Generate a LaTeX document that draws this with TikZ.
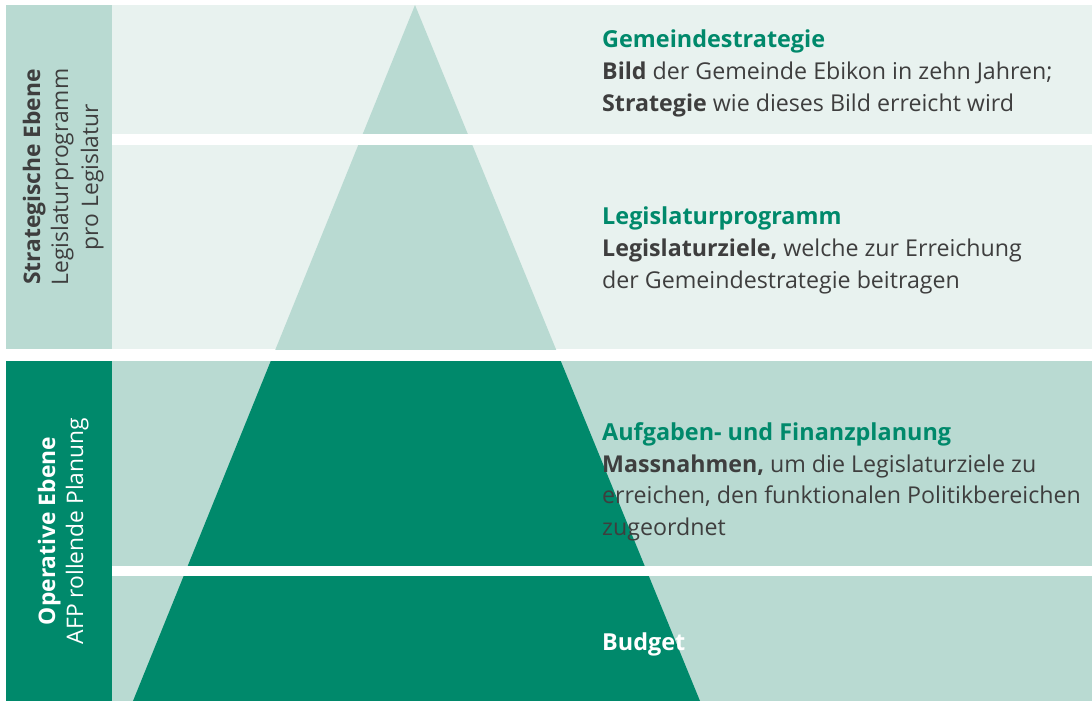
\documentclass[tikz,border=0pt]{standalone}
\usepackage{fontspec}
\setmainfont{Open Sans}

\definecolor{agreen}{RGB}{0,137,107}
\definecolor{alight}{RGB}{185,218,210}
\definecolor{apale}{RGB}{232,242,239}
\definecolor{atext}{RGB}{62,62,62}

\tikzset{
  head/.style={anchor=base west, inner sep=0pt, text=agreen, font=\fontsize{23.4}{27}\selectfont\bfseries},
  body/.style={anchor=base west, inner sep=0pt, text=atext, font=\fontsize{23.2}{27}\selectfont},
  sidebold/.style={anchor=base, inner sep=0pt, rotate=90, font=\fontsize{22.8}{26}\selectfont\bfseries},
  side/.style={anchor=base, inner sep=0pt, rotate=90, font=\fontsize{22.8}{26}\selectfont},
}

\begin{document}
\begin{tikzpicture}[x=1pt,y=-1pt]
	\useasboundingbox (0,0) rectangle (1092,701);

	% Bands
	\fill[apale]  (112,5)   rectangle (1092,134);
	\fill[apale]  (112,145) rectangle (1092,349);
	\fill[alight] (112,361) rectangle (1092,566);
	\fill[alight] (112,576) rectangle (1092,701);
	% Left column
	\fill[alight] (6,5)   rectangle (112,349);
	\fill[agreen] (6,361) rectangle (112,701);

	% Pyramid
	\begin{scope}
		\clip (112,5) rectangle (1092,349);
		\fill[alight] (415,5) -- (133,701) -- (700,701) -- cycle;
	\end{scope}
	\begin{scope}
		\clip (112,361) rectangle (1092,701);
		\fill[agreen] (415,5) -- (133,701) -- (700,701) -- cycle;
	\end{scope}

	% Gaps
	\fill[white] (112,134) rectangle (1092,145);
	\fill[white] (112,566) rectangle (1092,576);

	% Side labels
	\node[sidebold, text=atext] (strat) at (40,177) {Strategische Ebene};
	\node[side, text=atext] (stratlp) at (68,177) {Legislaturprogramm};
	\node[side, text=atext] (stratpl) at (98,177) {pro Legislatur};
	\node[sidebold, text=white] (oper) at (55,531) {Operative Ebene};
	\node[side, text=white] (operafp) at (83,531) {AFP rollende Planung};

	% Gemeindestrategie
	\node[head] (gs) at (602,48) {Gemeindestrategie};
	\node[body] (gs1) at (602,80) {\textbf{Bild} der Gemeinde Ebikon in zehn Jahren;};
	\node[body] (gs2) at (602,111) {\textbf{Strategie} wie dieses Bild erreicht wird};

	% Legislaturprogramm
	\node[head] (lp) at (602,224) {Legislaturprogramm};
	\node[body] (lp1) at (602,256) {\textbf{Legislaturziele,} welche zur Erreichung};
	\node[body] (lp2) at (602,288) {der Gemeindestrategie beitragen};

	% Aufgaben- und Finanzplanung
	\node[head] (afp) at (602,440) {Aufgaben- und Finanzplanung};
	\node[body] (afp1) at (602,472) {\textbf{Massnahmen,} um die Legislaturziele zu};
	\node[body] (afp2) at (602,503) {erreichen, den funktionalen Politikbereichen};
	\node[body] (afp3) at (602,535) {zugeordnet};

	% Budget
	\node[head, text=white] (bud) at (602,650) {Budget};

\end{tikzpicture}
\end{document}
